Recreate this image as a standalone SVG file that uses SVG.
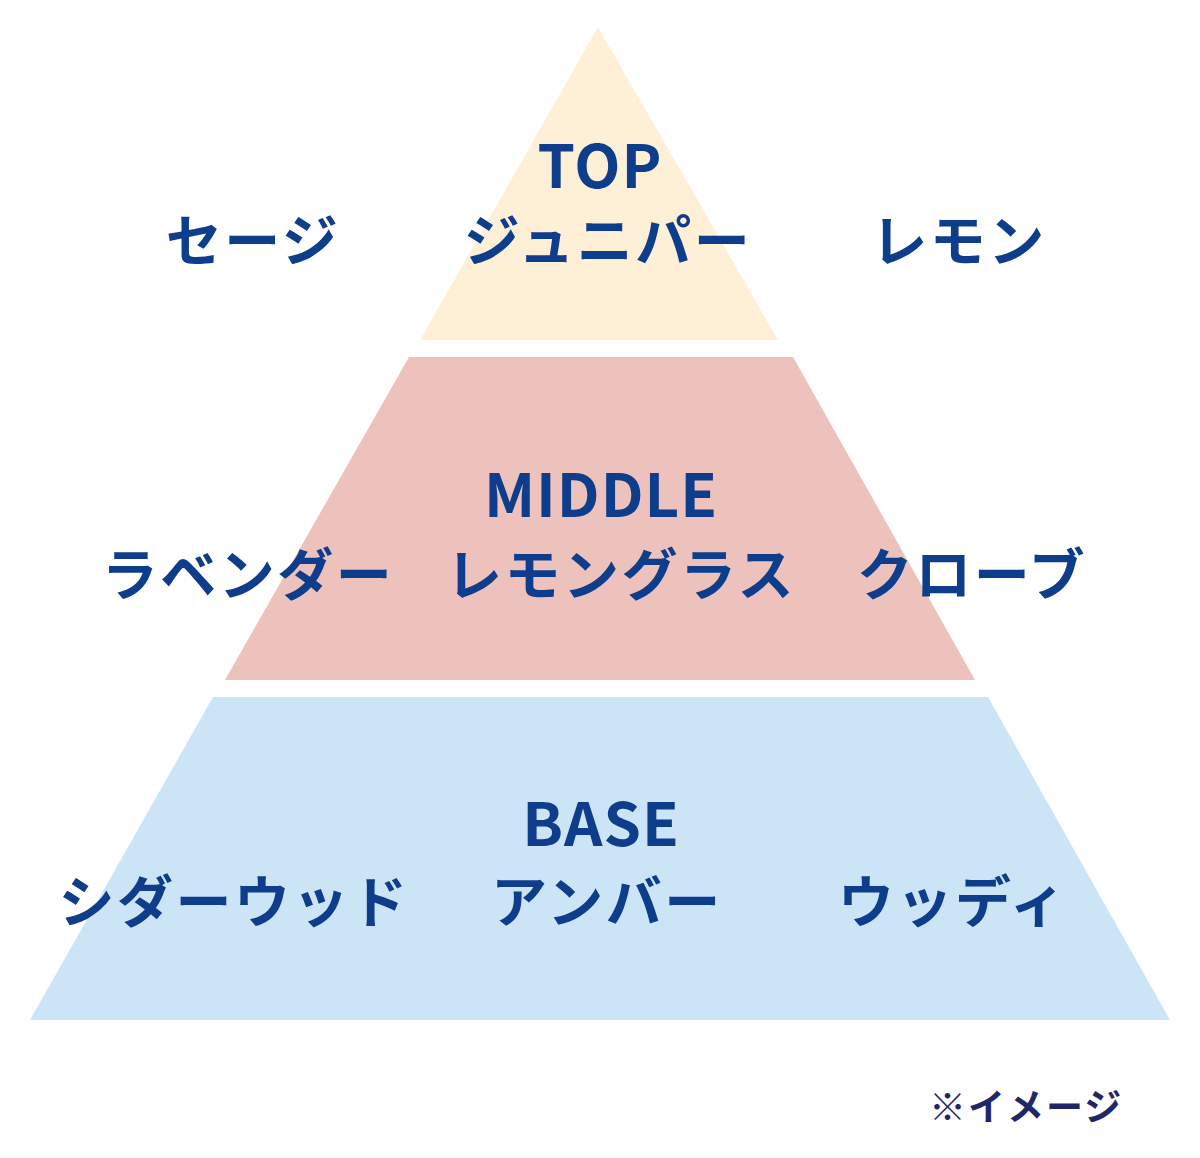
<svg xmlns="http://www.w3.org/2000/svg" width="1200" height="1158" viewBox="0 0 1200 1158">
<style>
.t{font-family:"Noto Sans CJK JP","Noto Sans",sans-serif;font-weight:bold;fill:#0e3d8c;text-anchor:middle}
.h{font-size:60px;letter-spacing:1px}
.j{font-size:56px;letter-spacing:2.5px}
.n{font-family:"Noto Sans CJK JP",sans-serif;font-weight:bold;fill:#1f2768;font-size:37px;letter-spacing:2px}
</style>
<rect width="1200" height="1158" fill="#ffffff"/>
<g id="top">
<polygon points="598,27 778,340 420,340" fill="#fdf0d6"/>
<text class="t h" x="600" y="188">TOP</text>
<text class="t j" x="608" y="261">ジュニパー</text>
<text class="t j" x="253" y="261">セージ</text>
<text class="t j" x="959" y="261">レモン</text>
</g>
<g id="middle">
<polygon points="409,357 793,357 975,680 225,680" fill="#edc2bd"/>
<text class="t h" x="601" y="517">MIDDLE</text>
<text class="t j" x="248" y="595">ラベンダー</text>
<text class="t j" x="621" y="595">レモングラス</text>
<text class="t j" x="972" y="595">クローブ</text>
</g>
<g id="base">
<polygon points="213,697 988,697 1170,1020 30,1020" fill="#cbe5f7"/>
<text class="t h" x="601" y="846">BASE</text>
<text class="t j" x="234" y="922">シダーウッド</text>
<text class="t j" x="607" y="922">アンバー</text>
<text class="t j" x="953" y="922">ウッディ</text>
</g>
<g id="note">
<text class="n" x="929" y="1121">※イメージ</text>
</g>
<g id="connectors"></g>
</svg>
